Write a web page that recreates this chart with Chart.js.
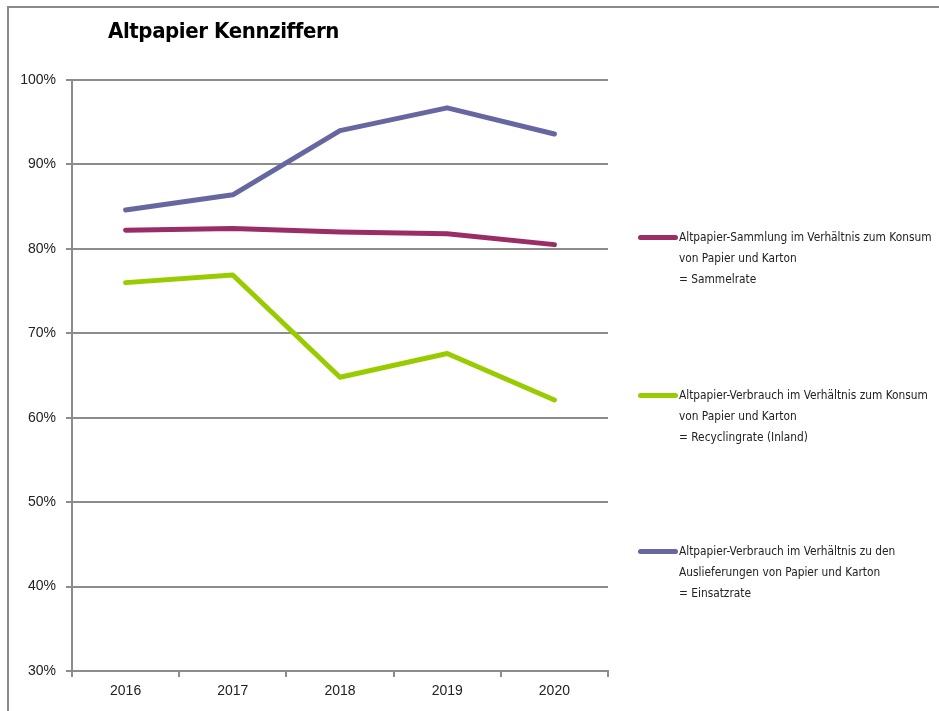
<!DOCTYPE html>
<html>
<head>
<meta charset="utf-8">
<script src="https://cdn.jsdelivr.net/npm/chart.js@4"></script>
<style>
  body { margin: 0; background: #fff; }
  #wrap { position: relative; width: 939px; height: 711px; overflow: hidden; }
  #frame { position: absolute; left: 7px; top: 6px; width: 940px; height: 720px; border: 2px solid #8a8a8a; box-sizing: border-box; }
  #title { position: absolute; left: 108px; top: 18px; font: bold 22px "DejaVu Sans Condensed", sans-serif; color: #000; letter-spacing: -0.4px; }
  .leg { position: absolute; left: 638px; font: 11.8px "DejaVu Sans Condensed", sans-serif; color: #222; line-height: 21px; }
  .leg .sw { position: absolute; left: 0; top: 8px; width: 40px; height: 5px; border-radius: 3px; }
  .leg .tx { margin-left: 41px; white-space: nowrap; }
  canvas { position: absolute; left: 0; top: 0; }
</style>
</head>
<body>
<div id="wrap">
  <div id="frame"></div>
  <canvas id="chart" width="939" height="711"></canvas>
  <div id="title">Altpapier Kennziffern</div>
  <div id="legend"></div>
</div>
<script>
var years = ['2016', '2017', '2018', '2019', '2020'];
var sammelrate = [82.2, 82.4, 82.0, 81.8, 80.5];
var recyclingrate = [76.0, 76.9, 64.8, 67.6, 62.1];
var einsatzrate = [84.6, 86.4, 94.0, 96.7, 93.6];
var yTicks = [30, 40, 50, 60, 70, 80, 90, 100];

var legendText = [
	['Altpapier-Sammlung im Verhältnis zum Konsum', 'von Papier und Karton', '= Sammelrate'],
	['Altpapier-Verbrauch im Verhältnis zum Konsum', 'von Papier und Karton', '= Recyclingrate (Inland)'],
	['Altpapier-Verbrauch im Verhältnis zu den', 'Auslieferungen von Papier und Karton', '= Einsatzrate']
];
var legendTop = [227, 385, 541];

var gridGrey = '#8c8c8c';

var ctx = document.getElementById('chart').getContext('2d');
var chart = new Chart(ctx, {
	type: 'line',
	data: {
		labels: years,
		datasets: [{
			label: 'Sammelrate',
			data: sammelrate,
			borderColor: '#9b2d66',
			borderWidth: 5
		}, {
			label: 'Recyclingrate',
			data: recyclingrate,
			borderColor: '#99cc00',
			borderWidth: 5
		}, {
			label: 'Einsatzrate',
			data: einsatzrate,
			borderColor: '#6667a1',
			borderWidth: 5
		}]
	},
	options: {
		responsive: false,
		animation: false,
		layout: { padding: { top: 80, right: 331, left: 0, bottom: 0 } },
		elements: {
			point: { radius: 0 },
			line: { tension: 0, borderCapStyle: 'round', borderJoinStyle: 'round' }
		},
		plugins: {
			legend: { display: false },
			title: { display: false },
			tooltip: { enabled: false }
		},
		scales: {
			x: {
				offset: true,
				grid: { drawOnChartArea: false, offset: true, tickLength: 6, color: gridGrey, lineWidth: 2 },
				border: { color: gridGrey, width: 2 },
				ticks: { color: '#222', font: { family: 'Liberation Sans', size: 14 }, padding: 6 },
				afterFit: function(s) { s.height = 40; }
			},
			y: {
				min: 30,
				max: 100,
				afterBuildTicks: function(s) { s.ticks = yTicks.map(function(v) { return { value: v }; }); },
				grid: { color: gridGrey, lineWidth: 2, tickLength: 6 },
				border: { color: gridGrey, width: 2 },
				ticks: {
					color: '#222',
					font: { family: 'Liberation Sans', size: 14 },
					padding: 10,
					callback: function(v) { return v + '%'; }
				},
				afterFit: function(s) { s.width = 72; }
			}
		}
	}
});

var html = '';
chart.data.datasets.forEach(function(ds, i) {
	html += '<div class="leg" style="top:' + legendTop[i] + 'px"><span class="sw" style="background:' + ds.borderColor + '"></span>' +
		'<div class="tx">' + legendText[i].join('<br>') + '</div></div>';
});
document.getElementById('legend').innerHTML = html;
</script>
</body>
</html>
